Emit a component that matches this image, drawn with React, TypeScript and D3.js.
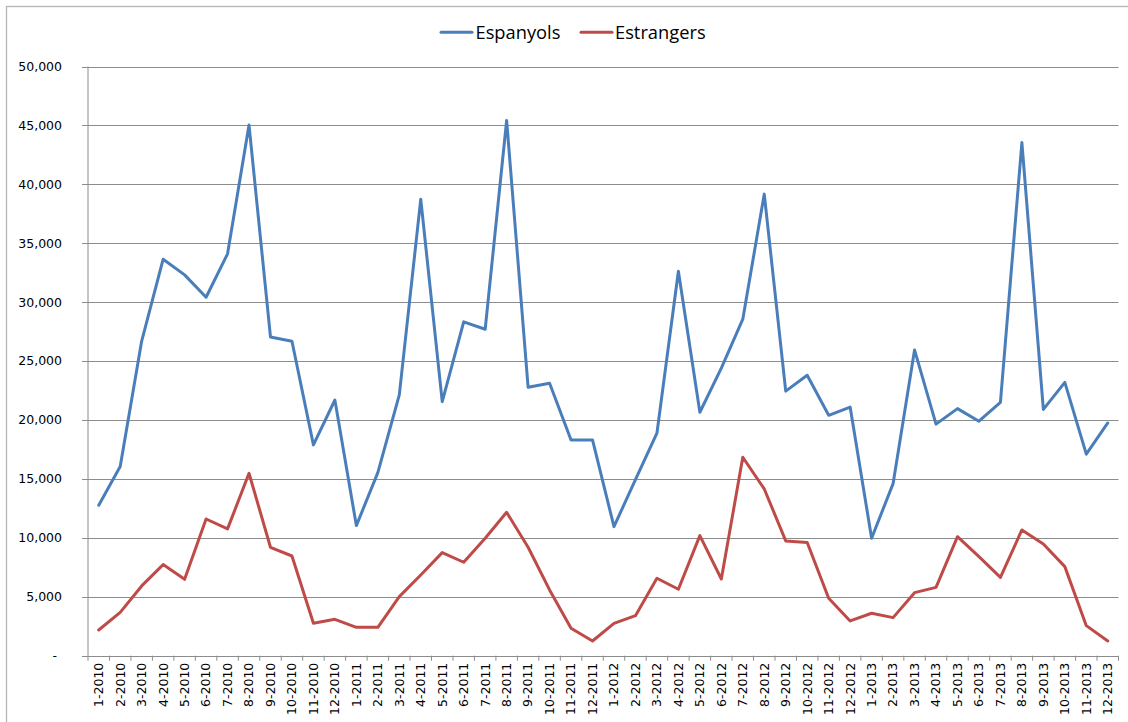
import React from "react";
import * as d3 from "d3";

const months: string[] = [];
for (const yr of [2010, 2011, 2012, 2013]) {
  for (let m = 1; m <= 12; m++) months.push(`${m}-${yr}`);
}

const espanyols = [
  12770, 16050, 26700, 33650, 32320, 30420, 34100, 45030, 27050, 26690, 17890, 21700,
  11040, 15540, 22130, 38740, 21560, 28330, 27700, 45420, 22780, 23120, 18310, 18310,
  10950, 14950, 18880, 32630, 20660, 24400, 28560, 39170, 22450, 23800, 20400, 21100,
  9970, 14600, 25950, 19650, 20970, 19900, 21500, 43550, 20900, 23200, 17100, 19750,
];

const estrangers = [
  2180, 3680, 5920, 7730, 6480, 11600, 10760, 15480, 9200, 8460, 2750, 3090,
  2410, 2410, 5010, 6850, 8750, 7930, 9970, 12170, 9200, 5580, 2330, 1250,
  2750, 3400, 6570, 5640, 10190, 6510, 16840, 14150, 9740, 9600, 4870, 2950,
  3600, 3230, 5350, 5800, 10100, 8400, 6650, 10670, 9480, 7560, 2550, 1250,
];

const yTicks = [0, 5000, 10000, 15000, 20000, 25000, 30000, 35000, 40000, 45000, 50000];

const seriesNames = ["Espanyols", "Estrangers"];
const seriesColors = ["#4A7EBB", "#BE4B48"];

export default function App() {
  const W = 1128;
  const H = 722;
  const left = 88;
  const right = 1118.5;
  const top = 66.5;
  const bottom = 655.7;

  const x = d3.scaleBand<string>().domain(months).range([left, right]).padding(0);
  const y = d3.scaleLinear().domain([0, 50000]).range([bottom, top]);
  const fmt = d3.format(",");
  const cx = (i: number) => (x(months[i]) as number) + x.bandwidth() / 2;

  const line = d3
    .line<number>()
    .x((_, i) => cx(i))
    .y((d) => y(d));

  const series = [espanyols, estrangers];
  const tickFont = "'DejaVu Sans', sans-serif";

  const boundaries = months.map((m) => x(m) as number).concat([right]);

  return (
    <svg
      width={W}
      height={H}
      style={{ position: "absolute", left: 0, top: 0, display: "block", background: "#fff" }}
    >
      <rect x={0} y={0} width={W} height={H} fill="#fff" />
      <rect x={6.5} y={6.5} width={W + 20} height={H + 20} fill="none" stroke="#B5B5B5" strokeWidth={1.3} />

      {/* gridlines */}
      {yTicks.map((t) => (
        <line key={"g" + t} x1={left - 6} x2={right} y1={Math.round(y(t)) + 0.5} y2={Math.round(y(t)) + 0.5} stroke="#8C8C8C" strokeWidth={1} />
      ))}

      {/* y axis line */}
      <line x1={left} x2={left} y1={top} y2={bottom} stroke="#8C8C8C" strokeWidth={1} />

      {/* x axis ticks */}
      {boundaries.map((b, i) => (
        <line key={"xt" + i} x1={b} x2={b} y1={bottom} y2={bottom + 5} stroke="#8C8C8C" strokeWidth={1} />
      ))}

      {/* y labels */}
      {yTicks.map((t) => (
        <text
          key={"yl" + t}
          x={t === 0 ? 57 : 62}
          y={y(t)}
          dy="0.35em"
          textAnchor="end"
          fontFamily={tickFont}
          fontSize={12.5}
          fill="#000"
        >
          {t === 0 ? "-" : fmt(t)}
        </text>
      ))}

      {/* x labels */}
      {months.map((m, i) => (
        <text
          key={"xl" + m}
          transform={`translate(${cx(i)},${bottom + 7}) rotate(-90)`}
          dy="0.35em"
          textAnchor="end"
          fontFamily={tickFont}
          fontSize={12.5}
          fill="#000"
        >
          {m}
        </text>
      ))}

      {/* lines */}
      {series.map((s, k) => (
        <path
          key={"s" + k}
          d={line(s) || ""}
          fill="none"
          stroke={seriesColors[k]}
          strokeWidth={3}
          strokeLinejoin="round"
          strokeLinecap="round"
        />
      ))}

      {/* legend */}
      <g fontFamily="'Open Sans', sans-serif" fontSize={18.3} fill="#000">
        <line x1={441} x2={472} y1={32.3} y2={32.3} stroke={seriesColors[0]} strokeWidth={3} strokeLinecap="round" />
        <text x={475.5} y={39}>{seriesNames[0]}</text>
        <line x1={581} x2={612} y1={32.3} y2={32.3} stroke={seriesColors[1]} strokeWidth={3} strokeLinecap="round" />
        <text x={615} y={39}>{seriesNames[1]}</text>
      </g>
    </svg>
  );
}
